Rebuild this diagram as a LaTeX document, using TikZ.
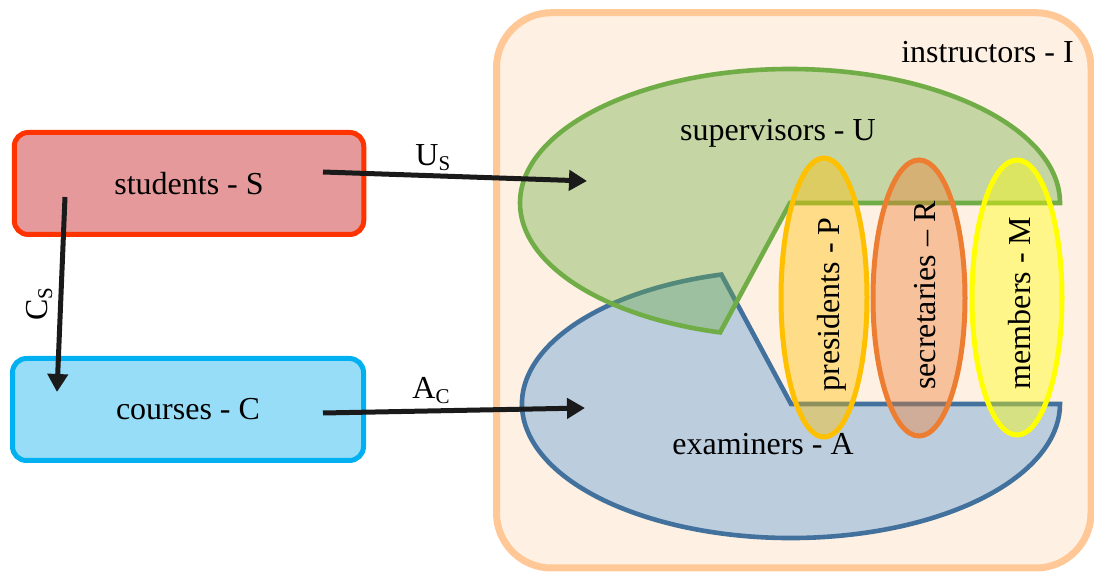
\documentclass[tikz,border=0pt]{standalone}
\usepackage{fontspec}
\setmainfont{Liberation Serif}
\newfontfamily\figserif{Liberation Serif}
\usetikzlibrary{arrows.meta,shapes.geometric}

\definecolor{peach}{HTML}{FEF0E3}
\definecolor{peachline}{HTML}{FFC896}
\definecolor{stufill}{HTML}{E6999A}
\definecolor{stuline}{HTML}{FF3300}
\definecolor{coufill}{HTML}{97DDF7}
\definecolor{couline}{HTML}{00B0F0}
\definecolor{supgreen}{HTML}{70AD47}
\definecolor{exfill}{HTML}{BCCDDD}
\definecolor{exline}{HTML}{41719C}
\definecolor{presgold}{HTML}{FFC000}
\definecolor{secorange}{HTML}{ED7D31}
\definecolor{memyellow}{HTML}{FFFF00}
\definecolor{arrowink}{HTML}{1A1A1A}

% smaller, lowered capital used as an index letter
\newcommand\subcap[1]{\raisebox{-2.5pt}{\fontsize{10.5}{12}\selectfont #1}}

\begin{document}
\begin{tikzpicture}[x=0.5pt,y=-0.5pt,
  font=\figserif\fontsize{16}{19}\selectfont,
  box/.style={draw, rounded corners=7pt, line width=2.5pt,
    minimum height=51pt, inner sep=0pt},
  role/.style={ellipse, draw, line width=2.5pt, fill opacity=0.4,
    inner sep=0pt, outer sep=0pt},
  label/.style={inner sep=0pt},
  link/.style={draw=arrowink, line width=2.5pt,
    -{Triangle[length=9pt,width=10pt]}}]

\useasboundingbox (0,0) rectangle (1094,572);

% the instructors set
\node[draw=peachline, fill=peach, line width=3.5pt, rounded corners=27.5pt,
  minimum width=297.25pt, minimum height=277.65pt, inner sep=0pt]
  (instructors) at (793.75,290.35) {};
\node[label, anchor=base] (insLabel) at (987.5,63) {instructors - I};

% examiners (pie shape opening towards the upper right)
\coordinate (exC) at (791,404);
\draw[draw=exline, fill=exfill, line width=2.3pt, line join=miter]
  (exC) ++(255:269 and 134)
  arc[start angle=255, end angle=0, x radius=269, y radius=134]
  -- (exC) -- cycle;

% supervisors (pie shape opening towards the lower right)
\coordinate (supC) at (790,203);
\path[fill=supgreen, fill opacity=0.4]
  (supC) ++(0:270 and 134)
  arc[start angle=0, end angle=-255, x radius=270, y radius=134]
  -- (supC) -- cycle;
\draw[draw=supgreen, line width=2.3pt, line join=miter]
  (supC) ++(0:270 and 134)
  arc[start angle=0, end angle=-255, x radius=270, y radius=134]
  -- (supC) -- cycle;

% committee roles
\node[role, draw=presgold, fill=presgold, minimum width=43pt, minimum height=139.5pt]
  (presidents) at (824,297.5) {};
\node[role, draw=secorange, fill=secorange, minimum width=46pt, minimum height=138pt]
  (secretaries) at (919,298) {};
\node[role, draw=memyellow, fill=memyellow, minimum width=45pt, minimum height=137.5pt]
  (members) at (1017,297.5) {};

\node[label, anchor=base] (supLabel) at (778,141) {supervisors - U};
\node[label, anchor=base] (exLabel) at (763,455) {examiners - A};
\node[label, rotate=90] (presLabel) at (832,304.5) {presidents - P};
\node[label, rotate=90] (secLabel) at (925.5,295.5) {secretaries – R};
\node[label, rotate=90] (memLabel) at (1019.5,303) {members - M};

% students and courses
\node[box, draw=stuline, fill=stufill, minimum width=174.75pt]
  (students) at (189,183.5) {students - S};
\node[box, draw=couline, fill=coufill, minimum width=175.5pt]
  (courses) at (188,409.5) {courses - C};

% mappings
\coordinate (usFrom) at (323,172);
\coordinate (usTo) at (587,181);
\coordinate (acFrom) at (323,413);
\coordinate (acTo) at (585,408);
\coordinate (csFrom) at (65,197);
\coordinate (csTo) at (57,392);

\draw[link] (usFrom) -- (usTo);
\draw[link] (acFrom) -- (acTo);
\draw[link] (csFrom) -- (csTo);

\node[label, anchor=base west] (usLabel) at (415,166) {U\subcap{S}};
\node[label, anchor=base west] (acLabel) at (412,399) {A\subcap{C}};
\node[label, anchor=base west, rotate=90] (csLabel) at (47,321) {C\subcap{S}};

\end{tikzpicture}
\end{document}
